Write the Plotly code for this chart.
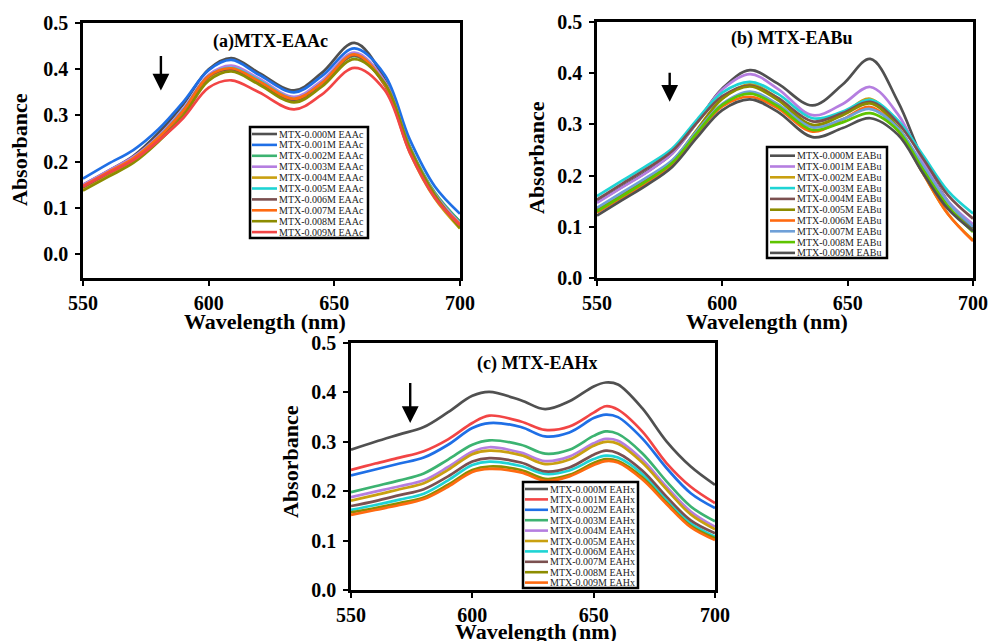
import plotly.graph_objects as go

W, H = 993, 641

# ---- data -------------------------------------------------------------
CONC = ["0.000", "0.001", "0.002", "0.003", "0.004",
        "0.005", "0.006", "0.007", "0.008", "0.009"]

EAAC_WL = [550, 560, 570, 580, 590, 600, 609, 620, 634, 645, 658, 670, 680, 690, 700]
EAAC_ABS = [
    [.150, .180, .212, .262, .325, .400, .424, .392, .354, .392, .457, .378, .232, .128, .070],
    [.163, .195, .225, .270, .330, .398, .420, .388, .350, .385, .445, .388, .248, .146, .087],
    [.142, .172, .203, .250, .308, .382, .402, .375, .338, .372, .428, .372, .232, .133, .070],
    [.150, .180, .210, .255, .315, .388, .408, .380, .340, .375, .436, .374, .230, .130, .066],
    [.140, .170, .200, .245, .305, .380, .398, .370, .333, .368, .430, .366, .220, .120, .055],
    [.146, .176, .206, .252, .312, .385, .403, .376, .336, .370, .432, .368, .225, .125, .062],
    [.145, .175, .205, .250, .310, .384, .400, .373, .334, .369, .430, .367, .224, .124, .061],
    [.147, .177, .207, .252, .311, .385, .402, .374, .336, .370, .432, .368, .224, .124, .064],
    [.137, .167, .197, .243, .300, .375, .395, .367, .328, .362, .422, .370, .230, .128, .056],
    [.146, .175, .203, .245, .295, .360, .376, .350, .313, .345, .403, .355, .220, .122, .062],
]

EABU_WL = [550, 560, 570, 580, 590, 600, 611, 622, 636, 648, 659, 670, 680, 690, 700]
EABU_ABS = [
    [.148, .178, .208, .243, .305, .370, .406, .380, .337, .378, .428, .345, .232, .150, .097],
    [.147, .177, .207, .243, .305, .368, .398, .370, .318, .340, .373, .320, .228, .150, .105],
    [.133, .160, .190, .225, .290, .350, .378, .352, .298, .320, .350, .290, .205, .125, .074],
    [.160, .190, .220, .253, .310, .362, .383, .360, .312, .325, .348, .308, .240, .170, .126],
    [.153, .184, .214, .248, .304, .355, .376, .352, .306, .322, .344, .303, .234, .162, .116],
    [.133, .163, .193, .228, .290, .350, .374, .348, .299, .318, .341, .295, .215, .140, .092],
    [.128, .157, .187, .222, .282, .335, .354, .332, .286, .310, .334, .288, .205, .125, .072],
    [.137, .167, .197, .230, .288, .340, .364, .340, .294, .310, .330, .293, .220, .148, .100],
    [.130, .160, .190, .225, .284, .338, .360, .336, .289, .304, .322, .288, .212, .140, .090],
    [.122, .152, .182, .217, .275, .328, .349, .325, .275, .293, .312, .280, .205, .135, .092],
]

EAHX_WL = [550, 560, 570, 580, 590, 600, 607, 620, 630, 640, 650, 655, 660, 670, 680, 690, 700]
EAHX_ABS = [
    [.284, .300, .315, .330, .360, .393, .401, .384, .366, .382, .412, .420, .416, .368, .301, .250, .213],
    [.243, .256, .268, .281, .305, .338, .353, .341, .324, .331, .359, .372, .365, .321, .257, .209, .176],
    [.232, .244, .256, .268, .294, .328, .338, .330, .311, .319, .348, .355, .350, .307, .247, .196, .166],
    [.198, .210, .222, .236, .264, .294, .303, .294, .276, .284, .312, .321, .316, .277, .220, .169, .139],
    [.188, .199, .210, .222, .249, .280, .289, .278, .261, .270, .297, .306, .302, .264, .209, .159, .128],
    [.181, .192, .204, .216, .243, .275, .282, .273, .255, .264, .292, .300, .296, .258, .204, .153, .123],
    [.162, .172, .183, .195, .222, .253, .260, .251, .235, .242, .265, .272, .268, .235, .182, .135, .108],
    [.170, .180, .192, .204, .230, .260, .267, .258, .240, .248, .274, .282, .277, .242, .189, .141, .115],
    [.157, .166, .176, .187, .213, .243, .250, .243, .225, .233, .257, .265, .261, .228, .177, .130, .105],
    [.152, .162, .172, .184, .209, .239, .245, .238, .221, .230, .253, .261, .258, .224, .174, .127, .101],
]

X_TICKS = [550, 600, 650, 700]
Y_TICKS = [0.0, 0.1, 0.2, 0.3, 0.4, 0.5]

# ---- styling ----------------------------------------------------------
GRAY, BLUE, GREEN, PURPLE = "#505050", "#1f6fe6", "#3cb371", "#b57ee0"
GOLD, CYAN, BROWN, ORANGE = "#c9a010", "#1ed4d4", "#7b5050", "#ff6a10"
OLIVE, RED, STEEL, LIME = "#8c8c00", "#f24545", "#6fa0d8", "#5ec400"

EAAC_COLORS = [GRAY, BLUE, GREEN, PURPLE, GOLD, CYAN, BROWN, ORANGE, OLIVE, RED]
EABU_COLORS = [GRAY, PURPLE, GOLD, CYAN, BROWN, OLIVE, ORANGE, STEEL, LIME, GRAY]
EAHX_COLORS = [GRAY, RED, BLUE, GREEN, PURPLE, GOLD, CYAN, BROWN, OLIVE, ORANGE]

SERIF = "Liberation Serif"


def px(x):
    return x / W


def py(y):
    return 1 - y / H


panels = [
    dict(name="EAAc", title="(a)MTX-EAAc", wl=EAAC_WL, data=EAAC_ABS, colors=EAAC_COLORS,
         box=(83, 23, 460, 278), yr=[-0.052, 0.5], title_xy=(270, 41),
         xt_xy=(265, 322), yt_xy=(19, 150), arrow=(581, 0.432, 0.354),
         leg=dict(box=(250, 127, 368, 238), line=(252, 277), y0=134, dy=10.9)),
    dict(name="EABu", title="(b) MTX-EABu", wl=EABU_WL, data=EABU_ABS, colors=EABU_COLORS,
         box=(597, 22, 973, 278), yr=[0, 0.5], title_xy=(792, 38),
         xt_xy=(767, 322), yt_xy=(537, 158), arrow=(579, 0.404, 0.344),
         leg=dict(box=(767, 147, 887, 258), line=(770, 795), y0=155.7, dy=10.8)),
    dict(name="EAHx", title="(c) MTX-EAHx", wl=EAHX_WL, data=EAHX_ABS, colors=EAHX_COLORS,
         box=(351, 343, 715, 590), yr=[0, 0.5], title_xy=(537, 363),
         xt_xy=(536, 631), yt_xy=(290, 462), arrow=(574.4, 0.422, 0.338),
         leg=dict(box=(523, 482, 638, 588), line=(525, 548), y0=489, dy=10.4)),
]

fig = go.Figure()
shapes, annotations = [], []
tick_font = dict(family=SERIF, size=20, color="black", weight="bold")


def label(text, x, y, size, angle=0):
    return dict(text=text, x=px(x), y=py(y), xref="paper", yref="paper",
                xanchor="center", yanchor="middle", showarrow=False, textangle=angle,
                font=dict(family=SERIF, size=size, color="black", weight="bold"))


for i, p in enumerate(panels):
    k = "" if i == 0 else str(i + 1)
    xa, ya = "x" + k, "y" + k
    for conc, ys, col in zip(CONC, p["data"], p["colors"]):
        fig.add_trace(go.Scatter(
            x=p["wl"], y=ys, mode="lines", xaxis=xa, yaxis=ya,
            name=f"MTX-{conc}M {p['name']}", showlegend=False,
            line=dict(color=col, width=2.7, shape="spline", smoothing=1.0),
        ))

    x0, y0, x1, y1 = p["box"]
    axis_common = dict(showline=True, linecolor="black", linewidth=2.5, mirror=True,
                       ticks="outside", ticklen=5, tickwidth=2, tickcolor="black",
                       showgrid=False, zeroline=False, tickfont=tick_font,
                       automargin=False)
    fig.update_layout(**{
        "xaxis" + k: dict(axis_common, domain=[px(x0), px(x1)], range=[550, 700],
                          tickvals=X_TICKS, anchor=ya),
        "yaxis" + k: dict(axis_common, domain=[py(y1), py(y0)], range=p["yr"],
                          tickvals=Y_TICKS, tickformat=".1f", anchor=xa,
                          ticklabelstandoff=3),
    })

    annotations.append(label(p["title"], *p["title_xy"], 18))
    annotations.append(label("Wavelength (nm)", *p["xt_xy"], 22))
    annotations.append(label("Absorbance", *p["yt_xy"], 22, angle=-90))

    # decreasing-trend arrow
    aw, atop, atip = p["arrow"]
    annotations.append(dict(x=aw, y=atip, ax=aw, ay=atop, xref=xa, yref=ya,
                            axref=xa, ayref=ya, text="", showarrow=True,
                            arrowhead=2, arrowsize=1.4, arrowwidth=2.4, arrowcolor="black"))

    # legend box with sample lines and labels
    lg = p["leg"]
    bx0, by0, bx1, by1 = lg["box"]
    shapes.append(dict(type="rect", xref="paper", yref="paper",
                       x0=px(bx0), x1=px(bx1), y0=py(by1), y1=py(by0),
                       line=dict(color="black", width=2.5), fillcolor="white", layer="above"))
    lx0, lx1 = lg["line"]
    for j, (conc, col) in enumerate(zip(CONC, p["colors"])):
        yy = lg["y0"] + j * lg["dy"]
        shapes.append(dict(type="line", xref="paper", yref="paper",
                           x0=px(lx0), x1=px(lx1), y0=py(yy), y1=py(yy),
                           line=dict(color=col, width=2.6), layer="above"))
        annotations.append(dict(text=f"MTX-{conc}M {p['name']}", x=px(lx1), y=py(yy),
                                xref="paper", yref="paper", xanchor="left", yanchor="middle",
                                showarrow=False,
                                font=dict(family=SERIF, size=10, color="#222")))

fig.update_layout(
    width=W, height=H, margin=dict(l=0, r=0, t=0, b=0, autoexpand=False),
    paper_bgcolor="white", plot_bgcolor="white",
    shapes=shapes, annotations=annotations, showlegend=False,
)

fig.write_html("out.html")
